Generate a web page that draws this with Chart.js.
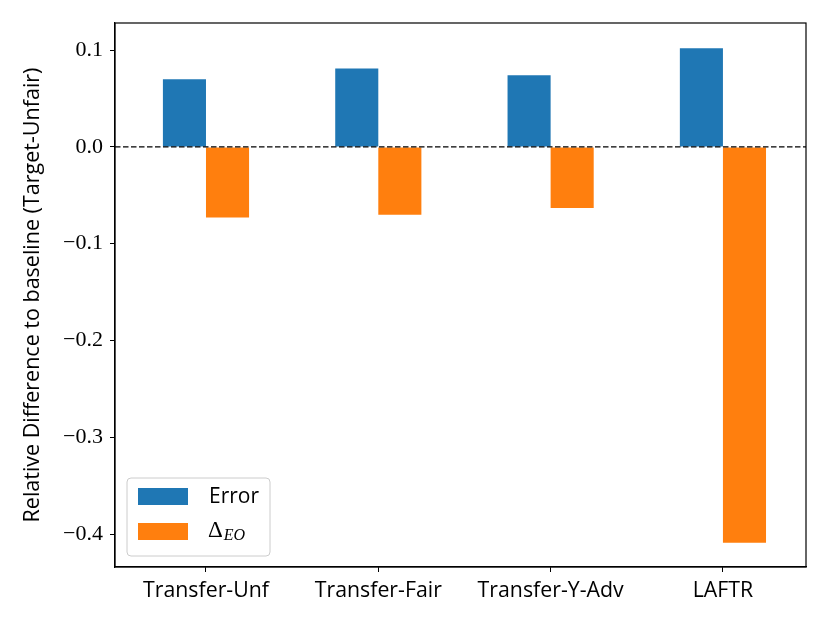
<!DOCTYPE html>
<html>
<head>
<meta charset="utf-8">
<script src="https://cdn.jsdelivr.net/npm/chart.js@4/dist/chart.umd.min.js"></script>
<style>
  body { margin: 0; background: #fff; }
</style>
</head>
<body>
<canvas id="chart" width="830" height="623"></canvas>
<script>
// dados
const categories = ["Transfer-Unf", "Transfer-Fair", "Transfer-Y-Adv", "LAFTR"];
const errorValues = [0.070, 0.081, 0.074, 0.102];
const deltaValues = [-0.073, -0.070, -0.063, -0.409];
const yTicks = [0.1, 0.0, -0.1, -0.2, -0.3, -0.4];

const SANS = "'Open Sans', Lato, sans-serif";
const SERIF = "'Liberation Serif', serif";

function fmt(v) {
  const s = Math.abs(v).toFixed(1);
  return v < -1e-9 ? "\u2212" + s : s;
}

// linha tracejada em zero + moldura + legenda
const extras = {
  id: "extras",
  afterDatasetsDraw(chart) {
    const { ctx, chartArea: a, scales } = chart;
    const y0 = scales.y.getPixelForValue(0);
    ctx.save();
    ctx.strokeStyle = "#000";
    ctx.lineWidth = 1.4;
    ctx.setLineDash([5.5, 2.5]);
    ctx.beginPath();
    ctx.moveTo(a.left, y0);
    ctx.lineTo(a.right, y0);
    ctx.stroke();
    ctx.setLineDash([]);
    ctx.lineWidth = 1.2;
    ctx.strokeRect(a.left, a.top, a.right - a.left, a.bottom - a.top);
    ctx.restore();
  },
  afterDraw(chart) {
    const { ctx, chartArea: a } = chart;
    const x = a.left + 12, y = a.bottom - 89, w = 143, h = 78;
    ctx.save();
    ctx.fillStyle = "rgba(255,255,255,0.8)";
    ctx.strokeStyle = "#cccccc";
    ctx.lineWidth = 1;
    ctx.beginPath();
    ctx.roundRect(x, y, w, h, 4);
    ctx.fill();
    ctx.stroke();
    const ds = chart.data.datasets;
    ctx.fillStyle = ds[0].backgroundColor;
    ctx.fillRect(x + 11, y + 10, 50, 17);
    ctx.fillStyle = ds[1].backgroundColor;
    ctx.fillRect(x + 11, y + 45, 50, 17);
    ctx.fillStyle = "#000";
    ctx.textBaseline = "middle";
    ctx.font = "21px " + SANS;
    ctx.fillText(ds[0].label, x + 82, y + 19);
    ctx.font = "23px " + SERIF;
    ctx.fillText("\u0394", x + 81, y + 53);
    const dw = ctx.measureText("\u0394").width;
    ctx.font = "italic 16px " + SERIF;
    ctx.fillText("EO", x + 82 + dw, y + 58);
    ctx.restore();
  }
};

const toPoints = vals => vals.map((v, i) => ({ x: i, y: v }));

new Chart(document.getElementById("chart"), {
  type: "bar",
  data: {
    datasets: [
      { label: "Error", data: toPoints(errorValues), backgroundColor: "#1f77b4" },
      { label: "\u0394EO", data: toPoints(deltaValues), backgroundColor: "#ff7f0e" }
    ]
  },
  options: {
    responsive: false,
    animation: false,
    devicePixelRatio: 1,
    layout: { padding: { top: 23, right: 24, left: 14, bottom: 0 } },
    datasets: { bar: { categoryPercentage: 0.5, barPercentage: 1 } },
    plugins: {
      legend: { display: false },
      tooltip: { enabled: false }
    },
    scales: {
      x: {
        type: "linear",
        min: -0.528,
        max: 3.482,
        offset: false,
        afterBuildTicks(s) { s.ticks = categories.map((c, i) => ({ value: i })); },
        grid: { offset: false, drawOnChartArea: false, tickLength: 5, color: "#000" },
        border: { color: "#000", width: 1.2 },
        ticks: {
          color: "#000",
          font: { family: SANS, size: 21.3 },
          padding: 6,
          maxRotation: 0,
          callback: v => categories[v]
        },
        afterFit(s) { s.height = 56; }
      },
      y: {
        min: -0.434,
        max: 0.128,
        afterBuildTicks(s) { s.ticks = yTicks.map(v => ({ value: v })); },
        grid: { drawOnChartArea: false, tickLength: 5, color: "#000" },
        border: { color: "#000", width: 1.2 },
        ticks: {
          color: "#000",
          font: { family: SERIF, size: 22 },
          padding: 7,
          callback: v => fmt(v)
        },
        title: {
          display: true,
          text: "Relative Difference to baseline (Target-Unfair)",
          color: "#000",
          font: { family: SANS, size: 21.5 },
          padding: { top: 6, bottom: 0 }
        },
        afterFit(s) { s.width = 101; }
      }
    }
  },
  plugins: [extras]
});
</script>
</body>
</html>
